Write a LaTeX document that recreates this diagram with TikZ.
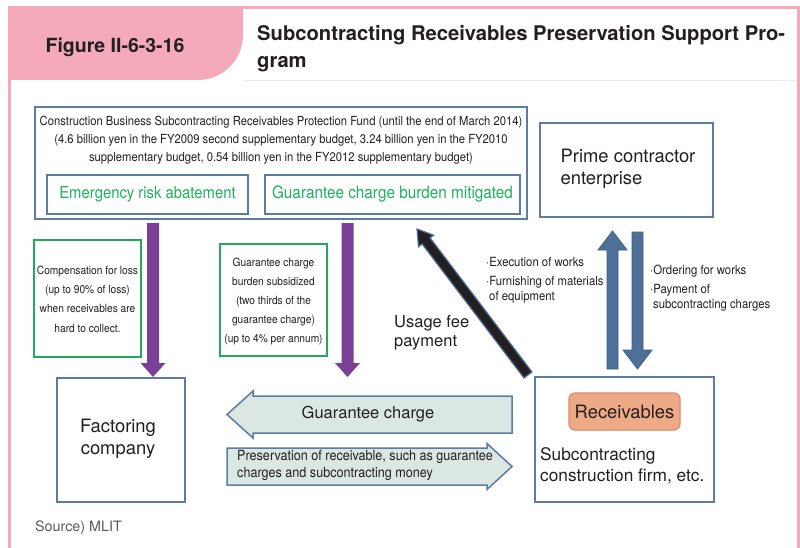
\documentclass[tikz,border=0pt]{standalone}
\usepackage{fontspec}
\setmainfont{TeX Gyre Heros}
\newfontfamily\narrowfont[FakeStretch=0.9]{TeX Gyre Heros}
\usetikzlibrary{calc}
\definecolor{pinkc}{HTML}{F4AABA}
\definecolor{boxblue}{HTML}{5B7DA5}
\definecolor{greenb}{HTML}{22AA5A}
\definecolor{greent}{HTML}{1DB25C}
\definecolor{purp}{HTML}{7A3F97}
\definecolor{tealc}{HTML}{DAE7E3}
\definecolor{salmon}{HTML}{EEAA86}
\definecolor{salmonb}{HTML}{DF876A}
\definecolor{arrblue}{HTML}{4D7099}
\definecolor{arrblueb}{HTML}{3E5F87}
\definecolor{txt}{HTML}{231F20}
\newcommand\blockarrow[6]{%
  \pgfpointdiff{\pgfpointanchor{#2}{center}}{\pgfpointanchor{#3}{center}}%
  \pgfgetlastxy{\bdx}{\bdy}%
  \pgfmathsetmacro\bang{atan2(\bdy,\bdx)}%
  \pgfmathsetmacro\blen{veclen(\bdx,\bdy)}%
  \pgfmathsetmacro\bneck{\blen-#6}%
  \begin{scope}[shift={(#2)},rotate=\bang]
    \path[#1] (0,#4) -- (\bneck,#4) -- (\bneck,#5) -- (\blen,0) -- (\bneck,-#5) -- (\bneck,-#4) -- (0,-#4) -- cycle;
  \end{scope}}
\begin{document}
\begin{tikzpicture}[x=1pt,y=-1pt,
  bluebox/.style={draw=boxblue, line width=2pt, inner sep=0pt},
  greenbox/.style={draw=greenb, line width=2pt, inner sep=0pt},
  small/.style={font=\narrowfont\fontsize{12}{19}\selectfont, text=txt, inner sep=0pt},
  big/.style={font=\fontsize{18.4}{22}\selectfont, text=txt, inner sep=0pt},
  greenlbl/.style={font=\narrowfont\fontsize{16.5}{20}\selectfont, text=greent, inner sep=0pt}]
\useasboundingbox (0,0) rectangle (800,548);
\fill[white] (0,0) rectangle (800,548);
% frame and header tab
\draw[pinkc, line width=3pt] (9,548) -- (9,7.5) -- (798.5,7.5) -- (798.5,548);
\draw[pinkc!30, line width=0.8pt] (243,80) -- (797,80);
\fill[pinkc] (9,9) -- (243,9) -- (243,35) arc[start angle=0,end angle=90,radius=45] -- (9,80) -- cycle;
\node[font=\bfseries\fontsize{19.5}{24}\selectfont, text=txt] (fig) at (115,47) {Figure II-6-3-16};
\node[anchor=north west, align=left, inner sep=0pt, font=\bfseries\fontsize{20.2}{27}\selectfont, text=txt] (title) at (257,25) {Subcontracting Receivables Preservation Support Pro-\\gram};
% fund box
\node[bluebox, minimum width=492, minimum height=112] (fund) at (281,163) {};
\node[small, align=center, font=\narrowfont\fontsize{12.5}{18}\selectfont] (fundtxt) at (281,140) {Construction Business Subcontracting Receivables Protection Fund (until the end of March 2014)\\(4.6 billion yen in the FY2009 second supplementary budget, 3.24 billion yen in the FY2010\\supplementary budget, 0.54 billion yen in the FY2012 supplementary budget)};
\node[bluebox, minimum width=201, minimum height=39] (emerg) at (147.5,194.5) {};
\node[greenlbl] (emergtxt) at (emerg) {Emergency risk abatement};
\node[bluebox, minimum width=255, minimum height=39] (guar) at (392.5,194.5) {};
\node[greenlbl, font=\narrowfont\fontsize{17}{20}\selectfont] (guartxt) at (guar) {Guarantee charge burden mitigated};
% prime contractor
\node[bluebox, minimum width=173, minimum height=94] (prime) at (626.5,170) {};
\node[big, align=left] (primetxt) at (628,169) {Prime contractor\\enterprise};
% green boxes
\node[greenbox, minimum width=107, minimum height=117] (comp) at (87.5,298.5) {};
\node[small, align=center, font=\narrowfont\fontsize{11.3}{19.3}\selectfont] (comptxt) at (87.5,299) {Compensation for loss\\(up to 90\% of loss)\\when receivables are\\hard to collect.};
\node[greenbox, minimum width=107, minimum height=112] (gsub) at (273.5,300) {};
\node[small, align=center, font=\narrowfont\fontsize{11.3}{19}\selectfont] (gsubtxt) at (273.5,302) {Guarantee charge\\burden subsidized\\(two thirds of the\\guarantee charge)\\(up to 4\% per annum)};
% factoring company
\node[bluebox, minimum width=128, minimum height=124] (fact) at (121,440) {};
\node[big, align=center] (facttxt) at (118,439) {Factoring\\company};
% subcontracting firm
\node[bluebox, minimum width=179, minimum height=125] (sub) at (624.5,439.5) {};
\node[draw=salmonb, fill=salmon, line width=1.2pt, rounded corners=6pt, minimum width=111, minimum height=37, big] (recv) at (624.5,411.5) {Receivables};
\node[big, anchor=west, align=left, font=\fontsize{17.3}{21.5}\selectfont] (subtxt) at (540,466) {Subcontracting\\construction firm, etc.};
% arrow end points
\coordinate (p1a) at (153,223);
\coordinate (p1b) at (153,377);
\coordinate (p2a) at (347.5,223);
\coordinate (p2b) at (347.5,377);
\coordinate (upa) at (612.5,369);
\coordinate (upb) at (612.5,231);
\coordinate (dna) at (637.5,232);
\coordinate (dnb) at (637.5,369);
\coordinate (bka) at (528,375);
\coordinate (bkb) at (417,229);
\coordinate (gca) at (512,414.5);
\coordinate (gcb) at (227,414.5);
\coordinate (pra) at (227,466.5);
\coordinate (prb) at (512,466.5);
\blockarrow{fill=purp}{p1a}{p1b}{6}{12.5}{14}
\blockarrow{fill=purp}{p2a}{p2b}{6}{12.5}{14}
\blockarrow{fill=arrblue, draw=arrblueb, line width=0.8pt}{upa}{upb}{5.5}{14.5}{19}
\blockarrow{fill=arrblue, draw=arrblueb, line width=0.8pt}{dna}{dnb}{5.5}{14.5}{19}
\blockarrow{fill=txt, draw=arrblue, line width=1.2pt}{bka}{bkb}{5}{9.5}{15}
\blockarrow{fill=tealc, draw=boxblue, line width=1.5pt}{gca}{gcb}{18.5}{23.5}{26}
\blockarrow{fill=tealc, draw=boxblue, line width=1.5pt}{pra}{prb}{18.5}{23}{25}
% labels
\node[font=\fontsize{16.5}{20}\selectfont, text=txt] (gclbl) at (368,414) {Guarantee charge};
\node[small, anchor=north west, align=left, font=\narrowfont\fontsize{14}{17}\selectfont] (prlbl) at (237,450) {Preservation of receivable, such as guarantee\\charges and subcontracting money};
\node[small, anchor=north west, align=left, font=\narrowfont\fontsize{12.6}{15}\selectfont] (execlbl) at (486,257) {·Execution of works\\[4pt]·Furnishing of materials\\\hspace*{3pt}of equipment};
\node[small, anchor=north west, align=left, font=\narrowfont\fontsize{12.6}{15}\selectfont] (ordlbl) at (650,265) {·Ordering for works\\[4pt]·Payment of\\\hspace*{3pt}subcontracting charges};
\node[big, anchor=west, align=left, font=\fontsize{16.5}{19}\selectfont] (usage) at (394,333) {Usage fee\\payment};
\node[anchor=west, inner sep=0pt, font=\fontsize{14.3}{16}\selectfont, text=black!65] (src) at (35,528) {Source) MLIT};
\end{tikzpicture}
\end{document}
